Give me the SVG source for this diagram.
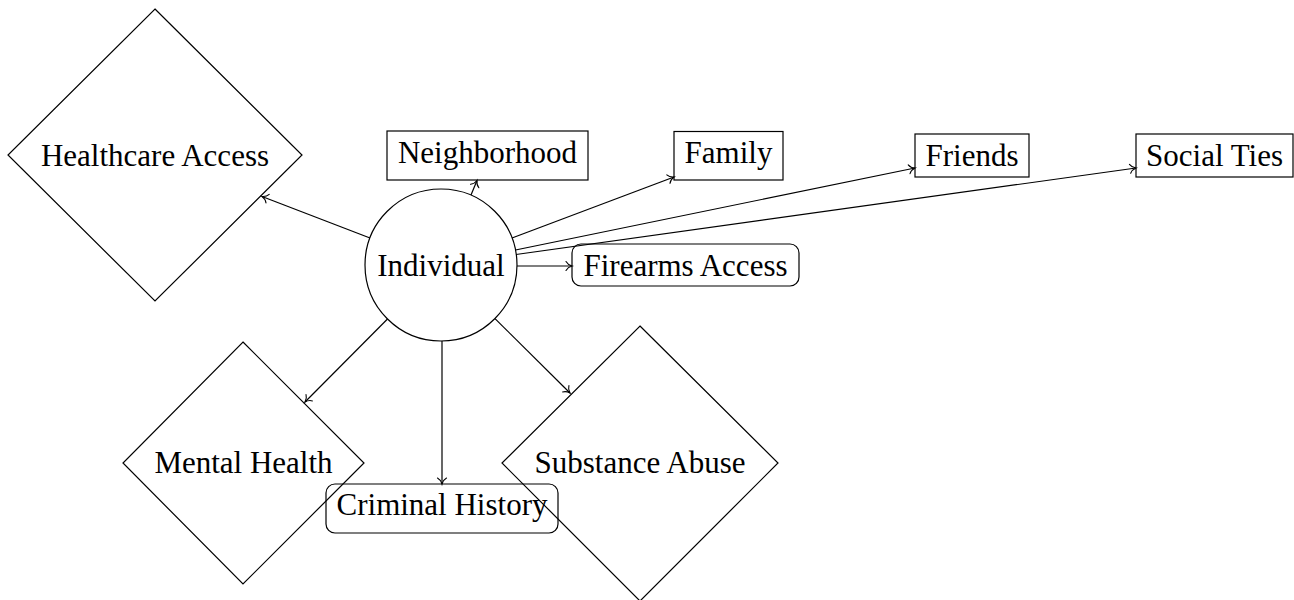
<svg xmlns="http://www.w3.org/2000/svg" width="1294" height="600" viewBox="0 0 1294 600">
<style>
.n{fill:none;stroke:#000;stroke-width:1.2}
.t{font-family:"Liberation Serif","Times New Roman",serif;font-size:31px;fill:#000;text-anchor:middle}
.e{fill:none;stroke:#000;stroke-width:1.2;marker-end:url(#to)}
</style>
<defs>
<marker id="to" markerUnits="userSpaceOnUse" markerWidth="12" markerHeight="12" viewBox="-8 -6 10 12" refX="0" refY="0" orient="auto">
<path d="M-6,-4.5 C-4.5,-1.8 -1.5,-0.4 0,0 C-1.5,0.4 -4.5,1.8 -6,4.5" fill="none" stroke="#000" stroke-width="1.1" stroke-linecap="round"/>
</marker>
</defs>
<rect width="1294" height="600" fill="#fff"/>
<g id="healthcare">
<polygon class="n" points="155,9 302,155 155,301 8,155"/>
<text class="t" x="155" y="165.5">Healthcare Access</text>
</g>
<g id="mental">
<polygon class="n" points="243,342 364,463 243,584 123,463"/>
<text class="t" x="243.5" y="473.3">Mental Health</text>
</g>
<g id="substance">
<polygon class="n" points="640,326 778,463 640,601 502,463"/>
<text class="t" x="640" y="473.3">Substance Abuse</text>
</g>
<g id="criminal">
<rect class="n" x="326" y="484" width="232" height="49" rx="9"/>
<text class="t" x="442" y="515">Criminal History</text>
</g>
<g id="neighborhood">
<rect class="n" x="387" y="131" width="201" height="49"/>
<text class="t" x="487.5" y="162.5">Neighborhood</text>
</g>
<g id="family">
<rect class="n" x="674" y="131.5" width="109" height="48.5"/>
<text class="t" x="728.5" y="162.5">Family</text>
</g>
<g id="friends">
<rect class="n" x="915" y="134" width="114" height="43"/>
<text class="t" x="972" y="165.5">Friends</text>
</g>
<g id="socialties">
<rect class="n" x="1136" y="134" width="157" height="43"/>
<text class="t" x="1214.5" y="165.5">Social Ties</text>
</g>
<g id="firearms">
<rect class="n" x="572" y="244" width="227" height="42" rx="9"/>
<text class="t" x="685.5" y="276">Firearms Access</text>
</g>
<g id="individual">
<circle class="n" cx="441" cy="265" r="76"/>
<text class="t" x="441" y="276">Individual</text>
</g>
<g id="connectors">
<line class="e" x1="370" y1="238" x2="262" y2="196.5"/>
<line class="e" x1="471" y1="195" x2="477" y2="180.5"/>
<line class="e" x1="512" y1="238" x2="674" y2="177"/>
<line class="e" x1="515.5" y1="250" x2="915" y2="168"/>
<line class="e" x1="516" y1="254.5" x2="1136" y2="168"/>
<line class="e" x1="517" y1="266" x2="572" y2="266"/>
<line class="e" x1="387.5" y1="319" x2="305" y2="402"/>
<line class="e" x1="442" y1="341" x2="442" y2="484"/>
<line class="e" x1="495" y1="318.6" x2="570" y2="393"/>
</g>
</svg>
